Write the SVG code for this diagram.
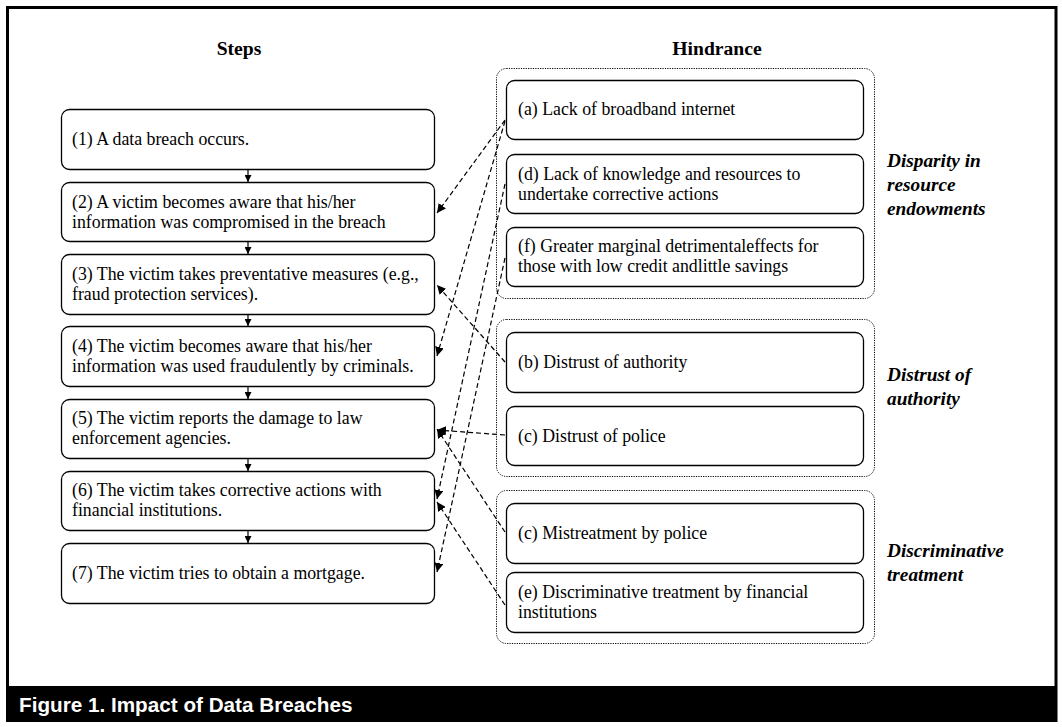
<svg xmlns="http://www.w3.org/2000/svg" width="1062" height="727" viewBox="0 0 1062 727">
<defs>
<style>
.box{fill:#fff;stroke:#000;stroke-width:1.3}
.grp{fill:none;stroke:#000;stroke-width:1;stroke-dasharray:1.2 1.2}
.t{font-family:"Liberation Serif","Times New Roman",serif;font-size:17.8px;fill:#000}
.h{font-family:"Liberation Serif","Times New Roman",serif;font-size:19.6px;font-weight:bold;fill:#000;text-anchor:middle}
.g{font-family:"Liberation Serif","Times New Roman",serif;font-size:19.3px;font-weight:bold;font-style:italic;fill:#000}
.dash{fill:none;stroke:#000;stroke-width:1.2;stroke-dasharray:5 3;marker-end:url(#ah)}
.solid{fill:none;stroke:#000;stroke-width:1.2;marker-end:url(#ah2)}
</style>
<marker id="ah" viewBox="0 0 10 10" refX="10" refY="5" markerWidth="9" markerHeight="9" markerUnits="userSpaceOnUse" orient="auto">
<path d="M0,0 L10,5 L0,10 z" fill="#000"/>
</marker>
<marker id="ah2" viewBox="0 0 10 10" refX="10" refY="5" markerWidth="7" markerHeight="7" markerUnits="userSpaceOnUse" orient="auto">
<path d="M0,0 L10,5 L0,10 z" fill="#000"/>
</marker>
</defs>
<rect x="0" y="0" width="1062" height="727" fill="#fff"/>
<rect x="7.5" y="7.5" width="1048.5" height="713" fill="#fff" stroke="#000" stroke-width="3"/>
<rect x="6" y="686" width="1051" height="36" fill="#000"/>
<text x="19" y="712" font-family="'Liberation Sans',Arial,sans-serif" font-size="20.7" font-weight="bold" fill="#fff">Figure 1. Impact of Data Breaches</text>

<text class="h" x="239" y="55">Steps</text>
<text class="h" x="717" y="55">Hindrance</text>

<g id="groups">
<rect class="grp" x="496.5" y="68.5" width="378" height="230" rx="10"/>
<rect class="grp" x="496.5" y="319.5" width="378" height="157" rx="10"/>
<rect class="grp" x="496.5" y="490.5" width="378" height="153" rx="10"/>
</g>
<g id="group-labels">
<text class="g" x="887" y="167">Disparity in</text>
<text class="g" x="887" y="191">resource</text>
<text class="g" x="887" y="215">endowments</text>
<text class="g" x="887" y="381">Distrust of</text>
<text class="g" x="887" y="405">authority</text>
<text class="g" x="887" y="557">Discriminative</text>
<text class="g" x="887" y="581">treatment</text>
</g>

<g id="step1"><rect class="box" x="61.5" y="109.5" width="373" height="60" rx="8"/><text class="t" x="72" y="145">(1) A data breach occurs.</text></g>
<g id="step2"><rect class="box" x="61.5" y="182.5" width="373" height="59" rx="8"/><text class="t" x="72" y="208">(2) A victim becomes aware that his/her</text><text class="t" x="72" y="228">information was compromised in the breach</text></g>
<g id="step3"><rect class="box" x="61.5" y="254.5" width="373" height="60" rx="8"/><text class="t" x="72" y="280">(3) The victim takes preventative measures (e.g.,</text><text class="t" x="72" y="300">fraud protection services).</text></g>
<g id="step4"><rect class="box" x="61.5" y="326.5" width="373" height="60" rx="8"/><text class="t" x="72" y="352">(4) The victim becomes aware that his/her</text><text class="t" x="72" y="372">information was used fraudulently by criminals.</text></g>
<g id="step5"><rect class="box" x="61.5" y="399.5" width="373" height="59" rx="8"/><text class="t" x="72" y="424">(5) The victim reports the damage to law</text><text class="t" x="72" y="444">enforcement agencies.</text></g>
<g id="step6"><rect class="box" x="61.5" y="471.5" width="373" height="59" rx="8"/><text class="t" x="72" y="496">(6) The victim takes corrective actions with</text><text class="t" x="72" y="516">financial institutions.</text></g>
<g id="step7"><rect class="box" x="61.5" y="543.5" width="373" height="60" rx="8"/><text class="t" x="72" y="579">(7) The victim tries to obtain a mortgage.</text></g>

<g id="hA"><rect class="box" x="506.5" y="80.5" width="357" height="59" rx="8"/><text class="t" x="518" y="115">(a) Lack of broadband internet</text></g>
<g id="hD"><rect class="box" x="506.5" y="154.5" width="357" height="59" rx="8"/><text class="t" x="518" y="180">(d) Lack of knowledge and resources to</text><text class="t" x="518" y="200">undertake corrective actions</text></g>
<g id="hF"><rect class="box" x="506.5" y="227.5" width="357" height="59" rx="8"/><text class="t" x="518" y="252">(f) Greater marginal detrimentaleffects for</text><text class="t" x="518" y="272">those with low credit andlittle savings</text></g>
<g id="hB"><rect class="box" x="506.5" y="332.5" width="357" height="60" rx="8"/><text class="t" x="518" y="368">(b) Distrust of authority</text></g>
<g id="hC1"><rect class="box" x="506.5" y="406.5" width="357" height="59" rx="8"/><text class="t" x="518" y="442">(c) Distrust of police</text></g>
<g id="hC2"><rect class="box" x="506.5" y="503.5" width="357" height="60" rx="8"/><text class="t" x="518" y="539">(c) Mistreatment by police</text></g>
<g id="hE"><rect class="box" x="506.5" y="572.5" width="357" height="60" rx="8"/><text class="t" x="518" y="598">(e) Discriminative treatment by financial</text><text class="t" x="518" y="618">institutions</text></g>

<g id="connectors">
<line class="solid" x1="248" y1="170" x2="248" y2="182"/>
<line class="solid" x1="248" y1="242" x2="248" y2="254"/>
<line class="solid" x1="248" y1="315" x2="248" y2="326"/>
<line class="solid" x1="248" y1="387" x2="248" y2="399"/>
<line class="solid" x1="248" y1="459" x2="248" y2="471"/>
<line class="solid" x1="248" y1="531" x2="248" y2="543"/>
<line class="dash" x1="505" y1="120" x2="437" y2="213"/>
<line class="dash" x1="505" y1="121" x2="437" y2="356"/>
<line class="dash" x1="505" y1="184" x2="437" y2="499"/>
<line class="dash" x1="505" y1="258" x2="437" y2="572"/>
<line class="dash" x1="505" y1="362" x2="437" y2="285"/>
<line class="dash" x1="505" y1="435" x2="437" y2="430"/>
<line class="dash" x1="505" y1="532" x2="437" y2="429"/>
<line class="dash" x1="505" y1="605" x2="437" y2="502"/>
</g>
</svg>
